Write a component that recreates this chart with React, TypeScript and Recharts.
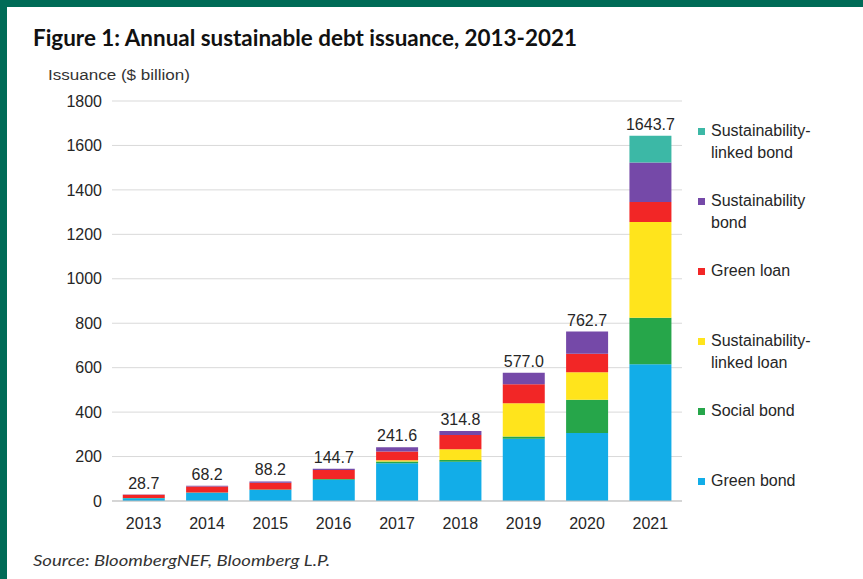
import { BarChart, Bar, XAxis, YAxis, CartesianGrid, LabelList } from 'recharts'

const years = ['2013', '2014', '2015', '2016', '2017', '2018', '2019', '2020', '2021']
const greenBond = [12, 37, 50, 96, 170, 177, 280, 306, 615]
const socialBond = [1, 1, 2, 3, 8, 8, 10, 150, 210]
const sustLinkedLoan = [0, 0, 0, 0, 5, 48, 150, 123, 430]
const greenLoan = [15, 27, 30, 40, 40, 64, 85, 84, 90]
const sustBond = [0.7, 3.2, 6.2, 5.7, 18.6, 17.8, 52, 99.7, 178]
const sustLinkedBond = [0, 0, 0, 0, 0, 0, 0, 0, 120.7]
const totals = [28.7, 68.2, 88.2, 144.7, 241.6, 314.8, 577.0, 762.7, 1643.7]
const yTicks = [0, 200, 400, 600, 800, 1000, 1200, 1400, 1600, 1800]

// bottom to top of the stack
const series = [
  { key: 'greenBond', label: 'Green bond', color: '#12ade8', values: greenBond },
  { key: 'socialBond', label: 'Social bond', color: '#26a64a', values: socialBond },
  { key: 'sustLinkedLoan', label: 'Sustainability-\nlinked loan', color: '#ffe41c', values: sustLinkedLoan },
  { key: 'greenLoan', label: 'Green loan', color: '#f22626', values: greenLoan },
  { key: 'sustBond', label: 'Sustainability\nbond', color: '#7549a8', values: sustBond },
  { key: 'sustLinkedBond', label: 'Sustainability-\nlinked bond', color: '#3cb8a6', values: sustLinkedBond },
]

const chartData = years.map((year, i) => {
  const row: Record<string, string | number> = { year, total: totals[i] }
  series.forEach((s) => {
    row[s.key] = s.values[i]
  })
  return row
})

// which series sits on top of each bar (gets the total label)
const topKey = years.map((_, i) => {
  let k = series[0].key
  series.forEach((s) => {
    if (s.values[i] > 0) k = s.key
  })
  return k
})

const FONT = '"Liberation Sans", Arial, sans-serif'

export default function App() {
  const legendItems = [...series].reverse()
  return (
    <div
      style={{
        position: 'absolute',
        left: 0,
        top: 0,
        width: 863,
        height: 579,
        background: '#fff',
        overflow: 'hidden',
      }}
    >
      {/* green frame */}
      <div style={{ position: 'absolute', left: 0, top: 0, width: 863, height: 7, background: '#006b57' }} />
      <div style={{ position: 'absolute', left: 0, top: 0, width: 7, height: 579, background: '#006b57' }} />

      <svg width={863} height={579} style={{ position: 'absolute', left: 0, top: 0 }}>
        <text
          x={33}
          y={46}
          fontFamily="Lato, 'Open Sans', sans-serif"
          fontWeight={700}
          fontSize={22}
          fill="#111"
          textLength={544}
          lengthAdjust="spacingAndGlyphs"
        >
          Figure 1: Annual sustainable debt issuance, 2013-2021
        </text>
        <text
          x={48}
          y={80}
          fontFamily={FONT}
          fontSize={14}
          fill="#333"
          textLength={142}
          lengthAdjust="spacingAndGlyphs"
        >
          Issuance  ($ billion)
        </text>
        <text
          x={33}
          y={566}
          fontFamily="Lato, 'Open Sans', sans-serif"
          fontStyle="italic"
          fontSize={16}
          fill="#333"
          textLength={297}
          lengthAdjust="spacingAndGlyphs"
        >
          Source: BloombergNEF, Bloomberg L.P.
        </text>
      </svg>

      <div style={{ position: 'absolute', left: 0, top: 0 }}>
        <BarChart
          width={863}
          height={540}
          data={chartData}
          margin={{ top: 101, right: 181, left: 52, bottom: 9 }}
          barCategoryGap="17%"
        >
          <CartesianGrid vertical={false} stroke="#d9d9d9" />
          <XAxis
            dataKey="year"
            height={30}
            tickLine={false}
            axisLine={{ stroke: '#bfbfbf' }}
            tickMargin={11}
            tick={{ fill: '#262626', fontSize: 16, fontFamily: FONT }}
          />
          <YAxis
            width={60}
            domain={[0, 1800]}
            ticks={yTicks}
            axisLine={false}
            tickLine={false}
            tickMargin={4}
            tick={{ fill: '#262626', fontSize: 16, fontFamily: FONT }}
          />
          {series.map((s) => (
            <Bar key={s.key} dataKey={s.key} stackId="a" fill={s.color} isAnimationActive={false}>
              <LabelList
                dataKey="total"
                content={(p: any) => {
                  const { x, y, width, value } = p
                  const i = totals.indexOf(Number(value))
                  if (i < 0 || topKey[i] !== s.key) return null
                  return (
                    <text
                      x={Number(x) + Number(width) / 2}
                      y={Number(y) - 6}
                      textAnchor="middle"
                      fill="#262626"
                      fontSize={16}
                      fontFamily={FONT}
                    >
                      {totals[i].toFixed(1)}
                    </text>
                  )
                }}
              />
            </Bar>
          ))}
        </BarChart>
      </div>

      {/* legend, top to bottom */}
      {legendItems.map((s, i) => (
        <div
          key={s.key}
          style={{
            position: 'absolute',
            left: 698,
            top: 120 + i * 70,
            fontFamily: FONT,
            fontSize: 16,
            lineHeight: '22px',
            color: '#262626',
            whiteSpace: 'pre-line',
          }}
        >
          <span
            style={{
              position: 'absolute',
              left: 0,
              top: 8,
              width: 7,
              height: 7,
              background: s.color,
            }}
          />
          <div style={{ marginLeft: 13 }}>{s.label}</div>
        </div>
      ))}
    </div>
  )
}
